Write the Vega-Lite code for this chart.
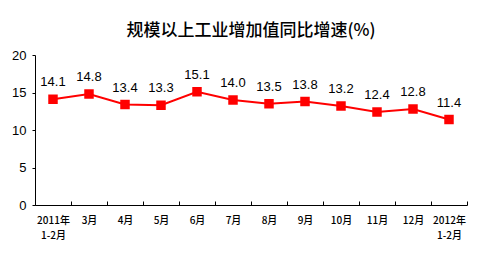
{
  "$schema": "https://vega.github.io/schema/vega-lite/v6.json",
  "width": 432,
  "height": 150,
  "autosize": "none",
  "padding": {"left": 35, "top": 55, "right": 33, "bottom": 58},
  "background": "white",
  "title": {
    "text": "规模以上工业增加值同比增速(%)",
    "font": "Noto Sans CJK SC",
    "fontSize": 17,
    "fontWeight": 500,
    "color": "#000000",
    "anchor": "middle",
    "offset": 9
  },
  "data": {
    "values": [
      {"month": "2011年|1-2月", "value": 14.1},
      {"month": "3月", "value": 14.8},
      {"month": "4月", "value": 13.4},
      {"month": "5月", "value": 13.3},
      {"month": "6月", "value": 15.1},
      {"month": "7月", "value": 14.0},
      {"month": "8月", "value": 13.5},
      {"month": "9月", "value": 13.8},
      {"month": "10月", "value": 13.2},
      {"month": "11月", "value": 12.4},
      {"month": "12月", "value": 12.8},
      {"month": "2012年|1-2月", "value": 11.4}
    ]
  },
  "encoding": {
    "x": {
      "field": "month",
      "type": "nominal",
      "sort": null,
      "scale": {"paddingInner": 0, "paddingOuter": 0},
      "axis": {
        "title": null,
        "labelAngle": 0,
        "labelExpr": "split(datum.label, '|')",
        "labelFont": "Noto Sans CJK SC",
        "labelFontSize": 10,
        "labelFontWeight": 500,
        "labelColor": "#000000",
        "labelPadding": 14,
        "labelLineHeight": 15,
        "domainColor": "#000000",
        "domainWidth": 1,
        "tickColor": "#000000",
        "tickSize": -4,
        "tickBand": "extent",
        "grid": false
      }
    },
    "y": {
      "field": "value",
      "type": "quantitative",
      "scale": {"domain": [0, 20], "nice": false},
      "axis": {
        "title": null,
        "values": [0, 5, 10, 15, 20],
        "labelFont": "Liberation Sans",
        "labelFontSize": 13,
        "labelColor": "#000000",
        "labelPadding": 6,
        "domainColor": "#000000",
        "tickColor": "#000000",
        "tickSize": 3,
        "grid": false
      }
    }
  },
  "layer": [
    {
      "mark": {"type": "line", "color": "#ff0000", "strokeWidth": 2}
    },
    {
      "mark": {"type": "square", "color": "#ff0000", "size": 90, "opacity": 1, "filled": true}
    },
    {
      "mark": {"type": "text", "dy": -17, "font": "Liberation Sans", "fontSize": 13, "color": "#000000"},
      "encoding": {"text": {"field": "value", "type": "quantitative", "format": ".1f"}}
    }
  ],
  "config": {"view": {"stroke": null}}
}
